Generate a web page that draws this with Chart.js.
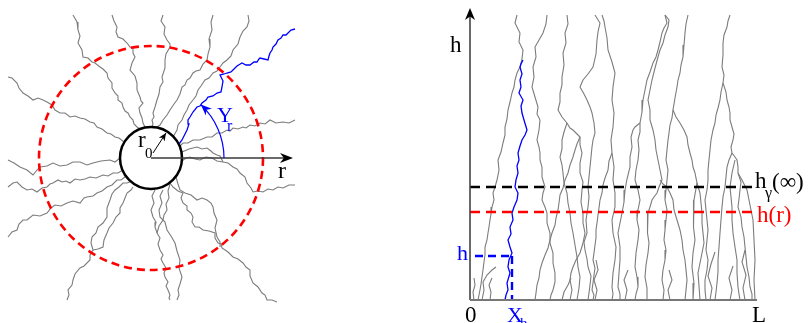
<!DOCTYPE html>
<html>
<head>
<meta charset="utf-8">
<script src="https://cdn.jsdelivr.net/npm/chart.js@4.4.1/dist/chart.umd.min.js"></script>
<style>
  html, body { margin: 0; padding: 0; background: #fff; width: 808px; height: 323px; overflow: hidden; }
  #wrap { position: relative; width: 808px; height: 323px; }
  canvas { position: absolute; top: 0; }
  #radial { left: 0; width: 310px; height: 323px; }
  #strip { left: 440px; width: 368px; height: 323px; }
</style>
</head>
<body>
<div id="wrap">
  <canvas id="radial" width="310" height="323"></canvas>
  <canvas id="strip" width="368" height="323"></canvas>
</div>
<script>
// ---- radial geometry (lengths in the same units, seed radius r0 = 31) ----
const R0 = 31;
const R_FRONT = 112;        // red dashed circle, radius r
const R_AXIS_END = 142;     // end of the r axis
const Y_ANGLE = 47;         // degrees of the Y_r arc
const Y_ARC_R = 73;

const radialGray = [
  [[-78,143],[-74,136],[-73,128],[-71,122],[-73,115],[-69,108],[-68,101],[-63,100],[-59,96],[-56,95],[-51,91],[-48,89],[-44,85],[-43,80],[-39,75],[-39,70],[-36,65],[-33,62],[-33,58],[-29,55],[-28,51],[-26,47],[-23,45],[-21,41],[-18,38],[-17,34],[-14,31],[-11,29]],
  [[-39,143],[-37,137],[-34,131],[-35,126],[-33,121],[-28,119],[-24,115],[-21,111],[-18,110],[-18,105],[-16,101],[-19,95],[-21,88],[-16,82],[-14,75],[-14,68],[-11,61],[-10,57],[-8,55],[-12,50],[-11,45],[-9,40],[-8,35],[-6,31]],
  [[-143,81],[-139,80],[-134,75],[-132,70],[-128,65],[-123,62],[-118,58],[-113,60],[-108,58],[-104,56],[-99,53],[-96,48],[-91,45],[-86,45],[-81,41],[-76,42],[-71,40],[-66,39],[-61,36],[-57,35],[-54,31],[-49,29],[-44,25],[-40,24],[-36,21],[-32,20],[-27,16]],
  [[-143,-2],[-137,-5],[-131,-9],[-124,-12],[-118,-17],[-114,-12],[-111,-9],[-104,-8],[-98,-5],[-91,-8],[-84,-7],[-78,-4],[-71,-4],[-64,-7],[-58,-5],[-50,-3],[-41,-2],[-36,-4],[-31,0]],
  [[-143,-29],[-138,-25],[-134,-24],[-129,-29],[-124,-32],[-119,-31],[-114,-34],[-109,-30],[-104,-29],[-101,-26],[-98,-25],[-93,-22],[-89,-24],[-85,-23],[-81,-25],[-76,-21],[-71,-22],[-66,-21],[-61,-19],[-55,-20],[-48,-17],[-43,-18],[-38,-15],[-33,-15],[-28,-12]],
  [[-143,-79],[-139,-74],[-134,-72],[-132,-66],[-128,-62],[-124,-62],[-118,-57],[-111,-58],[-104,-55],[-100,-50],[-96,-47],[-90,-48],[-84,-45],[-78,-43],[-71,-45],[-67,-40],[-64,-39],[-58,-38],[-54,-35],[-49,-33],[-44,-29],[-39,-27],[-34,-22],[-30,-22],[-26,-19]],
  [[-84,-142],[-82,-137],[-83,-132],[-79,-127],[-78,-122],[-76,-116],[-71,-110],[-67,-108],[-61,-102],[-61,-97],[-58,-92],[-60,-85],[-59,-79],[-55,-75],[-53,-69],[-48,-65],[-44,-59],[-44,-50],[-41,-42],[-39,-36],[-36,-32],[-32,-29],[-28,-25],[-24,-25],[-21,-24]],
  [[-58,-92],[-53,-91],[-48,-89],[-47,-82],[-44,-75],[-42,-70],[-38,-65],[-35,-59],[-31,-55],[-31,-50],[-28,-45],[-26,-40],[-24,-35],[-20,-32],[-18,-29]],
  [[4,-32],[1,-38],[3,-45],[0,-52],[2,-59],[5,-64],[4,-69],[6,-75],[9,-80],[7,-86],[9,-92],[12,-97],[10,-101],[12,-105],[15,-110],[13,-115],[14,-119],[17,-124],[15,-128],[17,-132],[19,-137],[18,-140],[19,-142]],
  [[12,-32],[9,-38],[11,-45],[8,-52],[9,-59],[14,-64],[16,-72],[20,-78],[24,-85],[26,-93],[29,-102],[28,-110],[31,-119],[29,-126],[27,-132],[28,-137],[26,-142]],
  [[19,-26],[17,-33],[18,-40],[15,-46],[16,-52],[13,-57],[12,-62],[8,-68],[6,-75]],
  [[19,-25],[22,-29],[27,-33],[32,-35],[30,-40],[32,-45],[36,-48],[36,-52],[40,-55],[42,-59],[41,-64],[44,-69],[48,-69],[52,-72],[58,-73],[64,-75],[64,-80],[67,-85],[70,-86],[71,-90],[77,-94],[82,-99],[87,-101],[92,-105],[95,-109],[99,-112],[99,-118],[102,-125],[107,-129],[111,-135],[114,-137],[116,-142],[121,-142],[126,-144]],
  [[25,-19],[27,-26],[29,-32],[34,-35],[40,-37],[46,-42],[51,-40],[56,-42],[60,-45],[62,-49],[63,-55],[66,-62],[64,-70],[66,-79],[69,-84],[69,-89]],
  [[31,-3],[35,0],[39,1],[44,-1],[49,-2],[55,1],[61,0],[66,-3],[72,-4],[77,-5],[82,-9],[86,-11],[89,-15],[94,-19],[96,-25],[100,-30],[102,-34],[107,-33],[112,-34],[117,-31],[122,-32],[127,-29],[132,-30],[138,-27],[144,-27]],
  [[12,143],[10,137],[14,131],[13,124],[16,118],[19,114],[19,111],[15,104],[14,98],[14,90],[11,81],[12,76],[9,71],[8,64],[6,58],[4,51],[2,45],[3,41],[1,38],[2,34],[1,31]],
  [[62,143],[60,136],[61,128],[58,119],[59,111],[57,104],[56,98],[52,94],[49,88],[45,87],[42,85],[39,80],[36,78],[34,73],[31,71],[29,64],[26,58],[23,54],[19,48],[16,43],[12,38],[9,33],[6,31]],
  [[97,143],[98,137],[96,131],[92,127],[89,121],[87,114],[82,108],[80,102],[76,98],[72,95],[69,91],[66,87],[62,85],[58,80],[54,78],[50,72],[47,68],[45,62],[42,58],[38,53],[36,48],[33,43],[31,38],[27,33],[26,28],[22,21]],
  [[29,12],[32,15],[37,15],[42,18],[49,18],[56,21],[61,21],[66,25],[71,25],[76,28],[79,27],[82,30],[87,29],[92,31],[95,30],[99,33],[104,32],[109,35],[114,34],[119,38],[125,35],[132,36],[138,35],[144,38]],
  [[31,6],[38,9],[46,11],[51,9],[56,10],[60,7],[62,5],[66,3],[69,2],[72,-4]]
];

const radialBlue = [[28,14],[31,18],[33,22],[36,28],[38,34],[37,38],[39,41],[42,46],[46,51],[49,52],[51,55],[55,58],[57,61],[62,62],[66,65],[70,66],[71,71],[72,77],[69,83],[73,84],[76,85],[80,86],[82,88],[86,92],[91,95],[95,93],[99,93],[103,96],[106,96],[108,99],[109,100],[113,99],[117,98],[118,102],[119,105],[121,108],[122,111],[125,114],[127,118],[130,120],[132,123],[135,123],[137,125],[140,128],[144,129]];

// ---- strip geometry (x from 0 to L, height h) ----
const L = 285;
const H_GAMMA = 113;   // h_gamma(infinity)
const H_R = 88;        // h(r)
const H_MARK = 44;     // blue h
const X_H = 42;        // X_h
const H_AXIS_END = 292;

const stripGray = [
  [[47,285],[45,277],[50,267],[49,258],[53,250],[52,241],[50,233],[47,227],[45,220],[44,213],[42,207],[40,198],[38,190],[37,181],[35,173],[35,165],[33,157],[31,148],[28,140],[29,130],[27,120],[25,113],[23,107],[24,100],[22,93],[21,86],[20,80],[19,73],[18,67],[17,60],[15,53],[15,45],[14,38],[13,30],[12,23],[11,16],[10,10],[9,5],[8,0]],
  [[77,285],[76,276],[73,267],[69,260],[65,253],[66,243],[63,233],[64,223],[62,213],[65,203],[68,193],[67,186],[70,180],[69,170],[67,160],[69,153],[70,147],[70,140],[72,133],[72,123],[75,113],[73,107],[72,100],[75,93],[77,87],[77,77],[80,67],[80,57],[83,47],[83,37],[85,27],[85,18],[83,10],[81,5],[80,0]],
  [[97,285],[98,276],[95,267],[96,257],[93,247],[94,235],[92,223],[92,215],[90,207],[90,198],[88,190],[92,183],[97,177],[100,172],[103,170],[107,166],[110,163],[110,155],[112,147],[110,137],[110,127],[113,118],[112,110],[111,98],[113,87],[113,77],[115,67],[113,57],[110,47],[106,40],[103,33],[101,27],[100,20],[102,10],[100,0]],
  [[97,177],[94,168],[92,160],[92,151],[90,143],[92,135],[93,127],[94,117],[97,107],[98,97],[100,87],[101,77],[103,67],[105,55],[107,43],[108,33],[110,23],[109,12],[107,0]],
  [[125,285],[130,277],[128,268],[127,260],[126,246],[123,233],[118,226],[113,220],[110,213],[114,206],[117,200],[120,193],[122,187],[124,177],[125,167],[123,160],[122,153],[121,143],[120,133],[119,123],[118,113],[119,103],[118,93],[116,80],[117,67],[114,58],[115,50],[117,41],[118,33],[121,24],[120,15],[119,7],[118,0]],
  [[132,285],[134,279],[135,273],[137,262],[138,250],[142,238],[145,227],[143,213],[142,200],[144,187],[143,173],[141,160],[142,147],[144,133],[143,120],[145,107],[145,93],[142,80],[143,67],[146,53],[145,40],[143,27],[142,13],[143,6],[142,0]],
  [[195,285],[197,277],[194,272],[192,267],[190,258],[188,250],[186,243],[183,237],[180,228],[177,220],[175,210],[173,200],[172,188],[170,177],[170,168],[168,160],[169,150],[168,140],[166,130],[165,120],[168,110],[170,100],[168,90],[167,80],[169,70],[168,60],[166,47],[165,33],[167,23],[168,13],[166,6],[165,0]],
  [[195,285],[199,280],[198,273],[195,265],[193,257],[190,250],[188,243],[185,232],[182,220],[180,210],[178,200],[180,190],[180,180],[183,170],[185,160],[186,150],[188,140],[190,130],[192,120],[189,113],[187,107],[184,103],[182,100],[180,93],[178,87],[178,77],[177,67],[179,57],[178,47],[176,35],[175,23],[177,12],[177,0]],
  [[218,285],[216,276],[215,267],[214,255],[213,243],[211,235],[210,227],[208,220],[207,213],[205,202],[203,190],[206,183],[210,177],[214,170],[217,163],[218,155],[220,147],[222,140],[223,133],[225,127],[227,117],[230,107],[231,97],[232,87],[232,77],[233,67],[234,57],[232,47],[230,37],[228,27],[229,14],[230,0]],
  [[190,120],[193,116],[197,113],[200,107],[203,100],[204,90],[207,80],[210,70],[212,60],[213,50],[215,40],[216,30],[217,20],[216,10],[215,0]],
  [[170,177],[165,173],[163,170],[161,163],[162,153],[160,143],[160,133],[157,121],[155,110],[154,98],[152,87],[150,77],[148,67],[150,53],[150,40],[149,27],[148,13],[150,6],[150,0]],
  [[260,285],[258,279],[257,273],[254,265],[253,257],[253,245],[252,233],[254,225],[253,217],[256,208],[257,200],[259,193],[260,187],[260,180],[262,173],[264,166],[263,160],[261,153],[262,147],[265,143],[267,140],[268,133],[268,127],[271,118],[270,110],[269,101],[268,93],[271,83],[272,73],[274,63],[275,53],[276,43],[277,33],[279,23],[280,13],[282,6],[282,0]],
  [[262,147],[259,140],[257,133],[256,123],[255,113],[253,103],[252,93],[251,80],[250,67],[249,53],[248,40],[248,28],[247,17],[246,8],[245,0]],
  [[265,140],[262,127],[260,113],[261,103],[262,93],[262,80],[263,67],[265,53],[267,40],[267,27],[268,13],[269,6],[270,0]],
  [[227,117],[224,100],[223,87],[224,73],[225,60],[223,47],[222,33],[224,17],[223,0]],
  [[268,127],[272,120],[277,110],[280,95],[283,80],[284,60],[285,40],[284,20],[285,0]],
  [[110,163],[107,156],[105,150],[103,143],[100,135],[98,127],[95,120],[93,112],[90,105],[89,97],[88,90],[86,82],[85,75],[82,67],[80,60],[78,52],[75,45],[72,37],[70,30],[69,22],[67,15],[66,7],[65,0]],
  [[142,147],[139,139],[138,130],[135,122],[133,115],[132,107],[130,100],[129,92],[128,85],[127,77],[126,70],[126,62],[125,55],[124,47],[123,40],[125,32],[124,25],[123,17],[122,10],[124,5],[123,0]],
  [[203,190],[202,182],[200,175],[199,167],[198,160],[197,150],[196,140],[198,130],[197,120],[196,110],[195,100],[197,90],[196,80],[195,70],[194,60],[196,50],[195,40],[193,30],[192,20],[194,10],[193,0]],
  [[253,217],[251,208],[250,200],[248,192],[246,185],[245,177],[243,170],[241,160],[240,150],[239,140],[238,130],[238,120],[237,110],[235,100],[236,90],[237,80],[238,70],[237,60],[236,50],[238,40],[237,30],[235,20],[235,10],[236,0]],
  [[4,0],[3,8],[5,15],[4,22]],
  [[12,0],[14,10],[13,18],[17,25],[22,30],[26,33]],
  [[20,0],[21,8],[19,15],[22,22]],
  [[92,0],[94,8],[98,15],[101,22]],
  [[125,0],[127,10],[124,20],[128,30],[126,40]],
  [[155,0],[157,10],[154,20],[158,30]],
  [[200,0],[198,10],[202,20],[199,30]],
  [[240,0],[242,12],[238,24],[241,36],[245,48]],
  [[260,0],[262,10],[259,22],[263,34]],
  [[275,0],[273,12],[276,25],[272,38],[275,50]]
];

const stripBlue = [[53,240],[51,236],[50,233],[52,226],[50,220],[51,213],[49,207],[53,200],[51,194],[52,187],[54,180],[57,170],[55,165],[52,160],[50,154],[48,147],[49,140],[47,134],[48,127],[46,120],[45,113],[48,107],[47,100],[44,93],[42,87],[43,80],[40,73],[41,66],[38,60],[40,53],[42,47],[39,40],[38,33],[40,27],[37,17],[38,10],[36,5],[35,0]];

const SERIF = '"Liberation Serif", "DejaVu Serif", serif';
const GRAY = '#7c7c7c';
const BLUE = '#0000ff';

function toXY(path) {
  return path.map(([x, y]) => ({ x, y }));
}

function lineSet(path, color, width, order, dash) {
  return {
    data: toXY(path),
    showLine: true,
    borderColor: color,
    borderWidth: width,
    borderDash: dash || [],
    pointRadius: 0,
    tension: 0,
    order: order
  };
}

function arrowHead(ctx, tx, ty, angle, len, half, color) {
  ctx.fillStyle = color;
  ctx.beginPath();
  ctx.moveTo(tx, ty);
  ctx.lineTo(tx - len * Math.cos(angle) + half * Math.sin(angle), ty - len * Math.sin(angle) - half * Math.cos(angle));
  ctx.lineTo(tx - len * Math.cos(angle) * 0.7, ty - len * Math.sin(angle) * 0.7);
  ctx.lineTo(tx - len * Math.cos(angle) - half * Math.sin(angle), ty - len * Math.sin(angle) + half * Math.cos(angle));
  ctx.closePath();
  ctx.fill();
}

function drawLabels(chart, labels) {
  const { ctx, scales: { x, y } } = chart;
  ctx.save();
  ctx.textAlign = 'left';
  ctx.textBaseline = 'alphabetic';
  labels.forEach(l => {
    ctx.font = l.size + 'px ' + SERIF;
    ctx.fillStyle = l.color;
    ctx.fillText(l.text, x.getPixelForValue(l.x), y.getPixelForValue(l.y));
  });
  ctx.restore();
}

const baseOptions = (xmin, xmax, ymin, ymax) => ({
  responsive: false,
  animation: false,
  devicePixelRatio: 1,
  events: [],
  layout: { padding: 0 },
  plugins: { legend: { display: false }, tooltip: { enabled: false } },
  scales: {
    x: { type: 'linear', display: false, min: xmin, max: xmax },
    y: { type: 'linear', display: false, min: ymin, max: ymax }
  }
});

/**
 * Left panel: radial growth from a seed of radius r0
 */
const radialDecor = {
  id: 'radialDecor',
  afterDatasetsDraw(chart) {
    const { ctx, scales: { x, y } } = chart;
    const cx = x.getPixelForValue(0), cy = y.getPixelForValue(0);
    const len = v => x.getPixelForValue(v) - cx;
    ctx.save();

    // front at radius r
    ctx.beginPath();
    ctx.arc(cx, cy, len(R_FRONT), 0, Math.PI * 2);
    ctx.setLineDash([8, 5]);
    ctx.lineWidth = 2.6;
    ctx.strokeStyle = '#ff0000';
    ctx.stroke();
    ctx.setLineDash([]);

    // seed
    ctx.beginPath();
    ctx.arc(cx, cy, len(R0), 0, Math.PI * 2);
    ctx.fillStyle = '#ffffff';
    ctx.fill();
    ctx.lineWidth = 2.5;
    ctx.strokeStyle = '#000000';
    ctx.stroke();

    // r axis
    const ax = x.getPixelForValue(R_AXIS_END);
    ctx.beginPath();
    ctx.moveTo(cx, cy);
    ctx.lineTo(ax - 6, cy);
    ctx.lineWidth = 1.6;
    ctx.strokeStyle = '#3a3a3a';
    ctx.stroke();
    arrowHead(ctx, ax, cy, 0, 13, 5, '#000');

    // r0 arrow
    const r0x1 = x.getPixelForValue(2), r0y1 = y.getPixelForValue(5);
    const r0x2 = x.getPixelForValue(15), r0y2 = y.getPixelForValue(25);
    ctx.beginPath();
    ctx.moveTo(r0x1, r0y1);
    ctx.lineTo(r0x2, r0y2);
    ctx.lineWidth = 1;
    ctx.strokeStyle = '#000';
    ctx.stroke();
    arrowHead(ctx, r0x2, r0y2, Math.atan2(r0y2 - r0y1, r0x2 - r0x1), 8, 3.5, '#000');

    // Y_r arc
    const th = Y_ANGLE * Math.PI / 180;
    const rr = len(Y_ARC_R);
    ctx.beginPath();
    ctx.arc(cx, cy, rr, 0, -th, true);
    ctx.lineWidth = 1.2;
    ctx.strokeStyle = BLUE;
    ctx.stroke();
    const ex = cx + rr * Math.cos(th), ey = cy - rr * Math.sin(th);
    arrowHead(ctx, ex, ey, Math.atan2(-Math.cos(th), -Math.sin(th)), 11, 4.5, BLUE);

    ctx.restore();

    drawLabels(chart, [
      { text: 'r', x: -13, y: 11, size: 23, color: '#000' },
      { text: '0', x: -6, y: 0, size: 15, color: '#000' },
      { text: 'Y', x: 66, y: 36, size: 22, color: BLUE },
      { text: 'r', x: 76, y: 27, size: 16, color: BLUE },
      { text: 'r', x: 127, y: -20, size: 24, color: '#000' }
    ]);
  }
};

/**
 * Right panel: fronts in a strip of width L
 */
const stripDecor = {
  id: 'stripDecor',
  afterDatasetsDraw(chart) {
    const { ctx, scales: { x, y } } = chart;
    const ox = x.getPixelForValue(0), oy = y.getPixelForValue(0);
    ctx.save();

    // h axis
    const top = y.getPixelForValue(H_AXIS_END);
    ctx.beginPath();
    ctx.moveTo(ox, oy);
    ctx.lineTo(ox, top + 6);
    ctx.lineWidth = 1.6;
    ctx.strokeStyle = '#444';
    ctx.stroke();
    arrowHead(ctx, ox, top, -Math.PI / 2, 12, 5, '#000');

    // baseline
    ctx.beginPath();
    ctx.moveTo(ox, oy);
    ctx.lineTo(x.getPixelForValue(L + 2), oy);
    ctx.lineWidth = 2;
    ctx.strokeStyle = '#777';
    ctx.stroke();
    ctx.restore();

    drawLabels(chart, [
      { text: 'h', x: -20, y: 248, size: 23, color: '#000' },
      { text: '0', x: -5, y: -22, size: 23, color: '#000' },
      { text: 'X', x: 37, y: -22, size: 22, color: BLUE },
      { text: 'h', x: 50, y: -28, size: 15, color: BLUE },
      { text: 'L', x: 282, y: -22, size: 23, color: '#000' },
      { text: 'h', x: -13, y: 40, size: 22, color: BLUE },
      { text: 'h', x: 285, y: 112, size: 23, color: '#000' },
      { text: 'γ', x: 295, y: 102, size: 16, color: '#000' },
      { text: '(∞)', x: 302, y: 111, size: 23, color: '#000' },
      { text: 'h(r)', x: 287, y: 78, size: 23, color: '#ff0000' }
    ]);
  }
};

new Chart(document.getElementById('radial').getContext('2d'), {
  type: 'scatter',
  data: {
    datasets: [
      ...radialGray.map(p => lineSet(p, GRAY, 1.1, 2)),
      lineSet(radialBlue, BLUE, 1.3, 1)
    ]
  },
  options: baseOptions(-151, 159, -165, 158),
  plugins: [radialDecor]
});

new Chart(document.getElementById('strip').getContext('2d'), {
  type: 'scatter',
  data: {
    datasets: [
      ...stripGray.map(p => lineSet(p, GRAY, 1.1, 3)),
      lineSet(stripBlue, BLUE, 1.3, 2),
      lineSet([[0, H_GAMMA], [L, H_GAMMA]], '#000000', 2.6, 1, [10, 6]),
      lineSet([[0, H_R], [L, H_R]], '#ff0000', 2.6, 1, [10, 6]),
      lineSet([[5, H_MARK], [X_H, H_MARK]], BLUE, 2.4, 0, [8, 5]),
      lineSet([[X_H, H_MARK], [X_H, 0]], BLUE, 2.4, 0, [8, 5])
    ]
  },
  options: baseOptions(-30, 338, -23, 300),
  plugins: [stripDecor]
});
</script>
</body>
</html>
